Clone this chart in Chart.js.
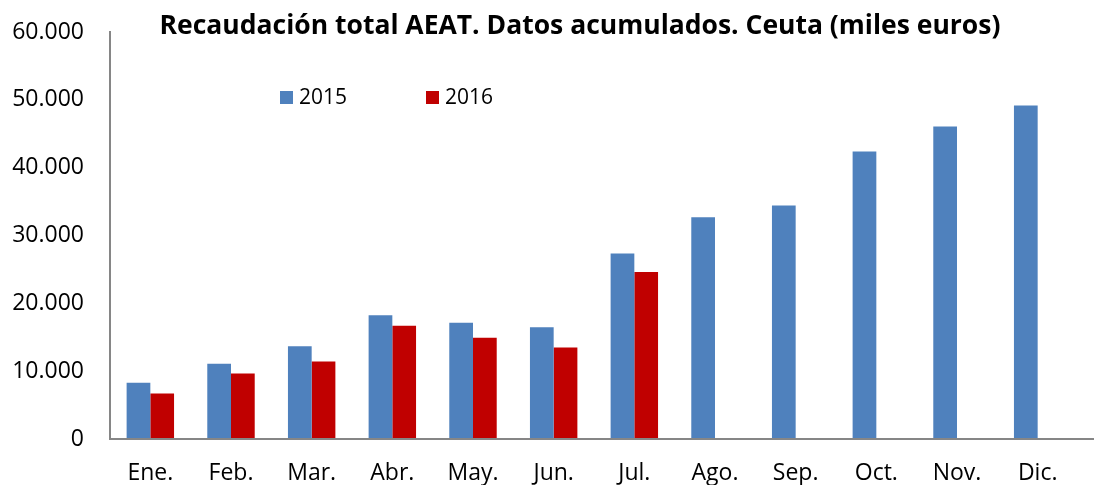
<!DOCTYPE html>
<html>
<head>
<meta charset="utf-8">
<script src="https://cdn.jsdelivr.net/npm/chart.js@4/dist/chart.umd.min.js"></script>
<style>
  html, body { margin: 0; padding: 0; background: #fff; }
  #wrap { width: 1094px; height: 485px; position: relative; }
</style>
</head>
<body>
<div id="wrap"><canvas id="bar-chart-ceuta" width="1094" height="485"></canvas></div>
<script>
// Recaudacion AEAT Ceuta, acumulado (miles euros)
var months = ["Ene.", "Feb.", "Mar.", "Abr.", "May.", "Jun.", "Jul.", "Ago.", "Sep.", "Oct.", "Nov.", "Dic."];
var data2015 = [8290, 11090, 13690, 18260, 17140, 16490, 27340, 32700, 34420, 42390, 46070, 49170];
var data2016 = [6710, 9660, 11430, 16700, 14930, 13500, 24630, null, null, null, null, null];
var yTicks = [0, 10000, 20000, 30000, 40000, 50000, 60000];
var chartTitle = "Recaudación total AEAT. Datos acumulados. Ceuta (miles euros)";

var FONT = "'Open Sans', sans-serif";

function fmt(v) {
  return String(v).replace(/\B(?=(\d{3})+(?!\d))/g, ".");
}

// title, legend and the long x axis line, drawn by hand like the excel original
var decor = {
  id: "decor",
  afterDraw: function (chart) {
    var c = chart.ctx, a = chart.chartArea;
    c.save();
    c.strokeStyle = "#868686";
    c.lineWidth = 2;
    c.beginPath();
    c.moveTo(a.left - 1, a.bottom);
    c.lineTo(chart.width, a.bottom);
    c.stroke();

    c.fillStyle = "#000";
    c.font = "bold 26.5px " + FONT;
    c.textAlign = "center";
    c.textBaseline = "middle";
    c.fillText(chartTitle, 580, 26);

    c.font = "21px " + FONT;
    c.textAlign = "left";
    chart.data.datasets.forEach(function (ds, i) {
      var x = i === 0 ? 280 : 426;
      c.fillStyle = ds.backgroundColor;
      c.fillRect(x, 91, 13, 13);
      c.fillStyle = "#000";
      c.fillText(ds.label, x + 19, 98);
    });
    c.restore();
  }
};

var ctx = document.getElementById("bar-chart-ceuta");
ctx && new Chart(ctx.getContext("2d"), {
  type: "bar",
  data: {
    labels: months,
    datasets: [
      { label: "2015", data: data2015, backgroundColor: "#4F81BD" },
      { label: "2016", data: data2016, backgroundColor: "#C00000" }
    ]
  },
  options: {
    responsive: false,
    animation: false,
    devicePixelRatio: 1,
    layout: { padding: { top: 32, right: 16, bottom: 0, left: 0 } },
    plugins: { legend: { display: false }, title: { display: false }, tooltip: { enabled: false } },
    datasets: { bar: { barPercentage: 1, categoryPercentage: 0.588 } },
    scales: {
      x: {
        afterFit: function (s) { s.height = 46; s.paddingLeft = 0; s.paddingRight = 0; },
        grid: { display: false, drawTicks: false },
        border: { display: false },
        ticks: { color: "#000", font: { family: FONT, size: 23 }, padding: 21, maxRotation: 0, autoSkip: false }
      },
      y: {
        min: 0,
        max: 60000,
        afterBuildTicks: function (s) { s.ticks = yTicks.map(function (v) { return { value: v }; }); },
        afterFit: function (s) { s.width = 110; s.paddingTop = 0; s.paddingBottom = 0; },
        grid: { display: false, drawTicks: false },
        border: { display: true, color: "#868686", width: 2 },
        ticks: { color: "#000", font: { family: FONT, size: 23 }, padding: 26, callback: function (v) { return fmt(v); } }
      }
    }
  },
  plugins: [decor]
});
</script>
</body>
</html>
